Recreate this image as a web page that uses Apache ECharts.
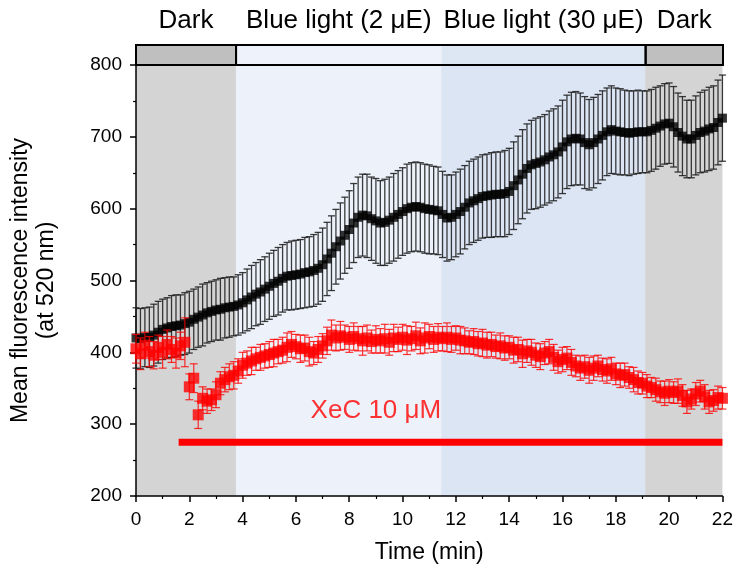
<!DOCTYPE html>
<html>
<head>
<meta charset="utf-8">
<script src="https://cdn.jsdelivr.net/npm/echarts/dist/echarts.min.js"></script>
<style>
  html, body { margin: 0; padding: 0; background: #fff; }
  #main { width: 736px; height: 569px; }
</style>
</head>
<body>
<div id="main"></div>
<script type="text/javascript">
  // sampling: one point every 10 s (1/6 min), 0 .. 22 min
  var sampleStep = 1 / 6;

  // control (black) - mean and error
  var controlMean = [
    420, 419, 421, 421, 424, 428, 432, 434, 436, 437, 438, 440,
    442, 446, 449, 452, 455, 457, 459, 460, 462, 463, 464, 466,
    469, 473, 477, 481, 484, 488, 492, 496, 499, 503, 506, 507,
    508, 509, 511, 512, 514, 517, 522, 530, 538, 547, 555, 563,
    571, 580, 588, 591, 590, 586, 583, 580, 581, 584, 588, 592,
    596, 600, 602, 603, 602, 600, 599, 598, 597, 592, 587, 588,
    592, 596, 602, 608, 611, 614, 617, 618, 619, 620, 620, 621,
    624, 632, 640, 648, 656, 661, 663, 665, 668, 672, 675, 679,
    686, 693, 697, 698, 697, 692, 689, 692, 697, 702, 707, 710,
    708, 707, 706, 705, 706, 707, 707, 707, 709, 712, 715, 718,
    719, 714, 706, 701, 697, 697, 702, 706, 708, 711, 713, 720, 726
  ];
  var controlErr = [
    42, 42, 41, 42, 43, 43, 42, 42, 43, 43, 42, 43, 43, 42, 42, 43, 42, 42, 42, 43, 42, 42, 41, 42,
    42, 43, 44, 44, 45, 45, 46, 46, 47, 47, 47, 48, 48, 48, 49, 49, 50, 50, 51, 51, 52, 52, 53, 53,
    54, 55, 56, 57, 58, 58, 59, 59, 60, 60, 61, 61, 61, 62, 62, 62, 62, 62, 62, 61, 61, 60, 60, 59,
    59, 59, 58, 58, 58, 58, 58, 58, 59, 59, 59, 60, 60, 61, 61, 62, 62, 62, 63, 63, 63, 64, 64, 64,
    65, 65, 65, 65, 64, 64, 63, 63, 62, 62, 61, 61, 60, 60, 59, 59, 58, 58, 57, 57, 57, 57, 56, 56,
    56, 56, 55, 55, 54, 54, 55, 56, 57, 58, 58, 59, 60
  ];

  // XeC 10 uM (red) - mean and error
  var xecMean = [
    405, 398, 410, 401, 396, 407, 400, 411, 404, 399, 409, 414,
    352, 364, 313, 336, 332, 334, 341, 357, 362, 366, 368, 374,
    382, 385, 388, 391, 393, 395, 397, 399, 401, 403, 407, 411,
    408, 405, 406, 401, 399, 404, 409, 416, 424, 420, 423, 421,
    418, 422, 419, 416, 420, 415, 418, 416, 419, 414, 420, 418,
    421, 417, 419, 423, 416, 420, 422, 418, 421, 419, 421, 418,
    420, 417, 416, 414, 415, 412, 413, 410, 411, 408, 409, 406,
    407, 403, 404, 398, 402, 400, 396, 394, 399, 401, 393, 387,
    390, 392, 386, 381, 378, 380, 375, 378, 381, 376, 374, 377,
    370, 368, 369, 365, 362, 358, 357, 353, 351, 348, 345, 343,
    346, 344, 346, 340, 331, 335, 342, 346, 338, 331, 333, 337, 336
  ];
  var xecErr = [
    20, 22, 18, 21, 19, 17, 22, 20, 18, 21, 19, 34,
    18, 20, 19, 16, 17, 15, 18, 16, 17, 18, 19, 17,
    18, 17, 19, 16, 18, 17, 18, 19, 17, 18, 20, 18,
    17, 19, 18, 20, 16, 18, 17, 19, 21, 18, 20, 17,
    18, 19, 17, 20, 18, 16, 19, 17, 20, 18, 19, 17,
    18, 20, 17, 19, 18, 21, 17, 18, 19, 17, 20, 18,
    17, 19, 18, 16, 18, 17, 19, 18, 17, 16, 18, 17,
    16, 18, 17, 19, 16, 18, 17, 18, 16, 17, 18, 16,
    17, 16, 18, 15, 17, 16, 18, 17, 15, 16, 17, 16,
    15, 17, 16, 15, 17, 16, 15, 16, 14, 16, 15, 17,
    16, 15, 17, 15, 16, 14, 16, 15, 17, 16, 15, 16, 15
  ];

  // illumination periods (min)
  var periodNames = ['Dark', 'Blue light (2 \u03bcE)', 'Blue light (30 \u03bcE)', 'Dark'];
  var periodBands = [[0, 3.75], [3.75, 11.45], [11.45, 19.1], [19.1, 22]];
  var periodBoxes = [[0, 3.75], [3.75, 19.1], [19.1, 22]];
  var plotColors = ['#d4d4d4', '#edf2fa', '#dce5f3', '#d4d4d4'];
  var barColors = ['#bfbfbf', '#eef2fa', '#dde6f3', '#bfbfbf'];

  // XeC application bar and its label
  var xecBar = [[1.6, 275], [22, 275]];
  var xecLabelAt = [[9.0, 318]];

  var FONT = '"Liberation Sans", Arial, sans-serif';

  function buildPoints(mean) {
    var out = [];
    for (var i = 0; i < mean.length; i++) out.push([i * sampleStep, mean[i]]);
    return out;
  }
  function buildErr(mean, err) {
    var out = [];
    for (var i = 0; i < mean.length; i++) out.push([i * sampleStep, mean[i] - err[i], mean[i] + err[i]]);
    return out;
  }

  function errorBarRender(color, cap, width, opacity) {
    return function (params, api) {
      var x = api.value(0);
      var lo = api.coord([x, api.value(1)]);
      var hi = api.coord([x, api.value(2)]);
      var st = { stroke: color, lineWidth: width, opacity: opacity };
      return {
        type: 'group',
        children: [
          { type: 'line', shape: { x1: lo[0], y1: lo[1], x2: hi[0], y2: hi[1] }, style: st },
          { type: 'line', shape: { x1: hi[0] - cap, y1: hi[1], x2: hi[0] + cap, y2: hi[1] }, style: st },
          { type: 'line', shape: { x1: lo[0] - cap, y1: lo[1], x2: lo[0] + cap, y2: lo[1] }, style: st }
        ]
      };
    };
  }

  var chart = echarts.init(document.getElementById('main'));

  var option = {
    animation: false,
    textStyle: { fontFamily: FONT },
    grid: [
      { left: 136, right: 13, top: 65, bottom: 73 },
      { left: 136, right: 13, top: 45, height: 20 }
    ],
    xAxis: [
      {
        gridIndex: 0, type: 'value', min: 0, max: 22, interval: 2,
        name: 'Time (min)', nameLocation: 'middle', nameGap: 45,
        nameTextStyle: { fontSize: 23, color: '#000', fontFamily: FONT },
        axisLine: { lineStyle: { color: '#000', width: 1.5 } },
        axisTick: { length: 6, lineStyle: { color: '#000', width: 1.5 } },
        minorTick: { show: true, splitNumber: 2, length: 3, lineStyle: { color: '#000', width: 1.2 } },
        axisLabel: { fontSize: 19, color: '#000', margin: 14, fontFamily: FONT },
        splitLine: { show: false }
      },
      { gridIndex: 1, type: 'value', min: 0, max: 22, show: false }
    ],
    yAxis: [
      {
        gridIndex: 0, type: 'value', min: 200, max: 800, interval: 100,
        name: 'Mean fluorescence intensity\n(at 520 nm)', nameLocation: 'middle', nameGap: 76,
        nameTextStyle: { fontSize: 23, color: '#000', lineHeight: 26, fontFamily: FONT },
        axisLine: { show: true, lineStyle: { color: '#000', width: 1.5 } },
        axisTick: { length: 6, lineStyle: { color: '#000', width: 1.5 } },
        minorTick: { show: true, splitNumber: 2, length: 3, lineStyle: { color: '#000', width: 1.2 } },
        axisLabel: { fontSize: 19, color: '#000', margin: 14, fontFamily: FONT },
        splitLine: { show: false }
      },
      { gridIndex: 1, type: 'value', min: 0, max: 1, show: false }
    ],
    series: [
      // background period bands in the plot
      {
        type: 'custom', xAxisIndex: 0, yAxisIndex: 0, z: 0, silent: true,
        data: periodBands,
        renderItem: function (params, api) {
          var a = api.coord([api.value(0), 800]);
          var b = api.coord([api.value(1), 200]);
          return {
            type: 'rect',
            shape: { x: a[0], y: a[1], width: b[0] - a[0], height: b[1] - a[1] },
            style: { fill: plotColors[params.dataIndex] }
          };
        }
      },
      // top bar: fills and labels
      {
        type: 'custom', xAxisIndex: 1, yAxisIndex: 1, z: 1, silent: true, clip: false,
        data: periodBands,
        renderItem: function (params, api) {
          var a = api.coord([api.value(0), 1]);
          var b = api.coord([api.value(1), 0]);
          return {
            type: 'group',
            children: [
              {
                type: 'rect',
                shape: { x: a[0], y: a[1], width: b[0] - a[0], height: b[1] - a[1] },
                style: { fill: barColors[params.dataIndex] }
              },
              {
                type: 'text',
                style: {
                  x: (a[0] + b[0]) / 2, y: a[1] - 11,
                  text: periodNames[params.dataIndex],
                  align: 'center', verticalAlign: 'bottom',
                  fill: '#000', font: '26px ' + FONT
                }
              }
            ]
          };
        }
      },
      // top bar: boxes
      {
        type: 'custom', xAxisIndex: 1, yAxisIndex: 1, z: 2, silent: true, clip: false,
        data: periodBoxes,
        renderItem: function (params, api) {
          var a = api.coord([api.value(0), 1]);
          var b = api.coord([api.value(1), 0]);
          return {
            type: 'rect',
            shape: { x: a[0], y: a[1], width: b[0] - a[0], height: b[1] - a[1] },
            style: { fill: 'none', stroke: '#000', lineWidth: 2 }
          };
        }
      },
      // XeC application bar
      {
        type: 'line', data: xecBar, z: 3, symbol: 'none', silent: true,
        lineStyle: { color: '#ff0000', width: 7, cap: 'butt' }
      },
      {
        type: 'scatter', data: xecLabelAt, symbolSize: 0, z: 3, silent: true,
        label: {
          show: true, position: 'inside', formatter: 'XeC 10 \u03bcM',
          color: '#ff0000', fontSize: 26, fontFamily: FONT
        }
      },
      // control error bars + markers
      {
        type: 'custom', z: 4, silent: true,
        data: buildErr(controlMean, controlErr),
        encode: { x: 0, y: [1, 2] },
        renderItem: errorBarRender('#1a1a1a', 3.5, 1.3, 0.85)
      },
      {
        type: 'scatter', z: 5, symbol: 'rect', symbolSize: 9,
        itemStyle: { color: '#000' },
        data: buildPoints(controlMean)
      },
      // XeC error bars + markers
      {
        type: 'custom', z: 6, silent: true,
        data: buildErr(xecMean, xecErr),
        encode: { x: 0, y: [1, 2] },
        renderItem: errorBarRender('#ff0000', 4, 1.2, 0.8)
      },
      {
        type: 'scatter', z: 7, symbol: 'rect', symbolSize: 11,
        itemStyle: { color: '#ff0000' },
        data: buildPoints(xecMean)
      }
    ]
  };

  chart.setOption(option);
</script>
</body>
</html>
